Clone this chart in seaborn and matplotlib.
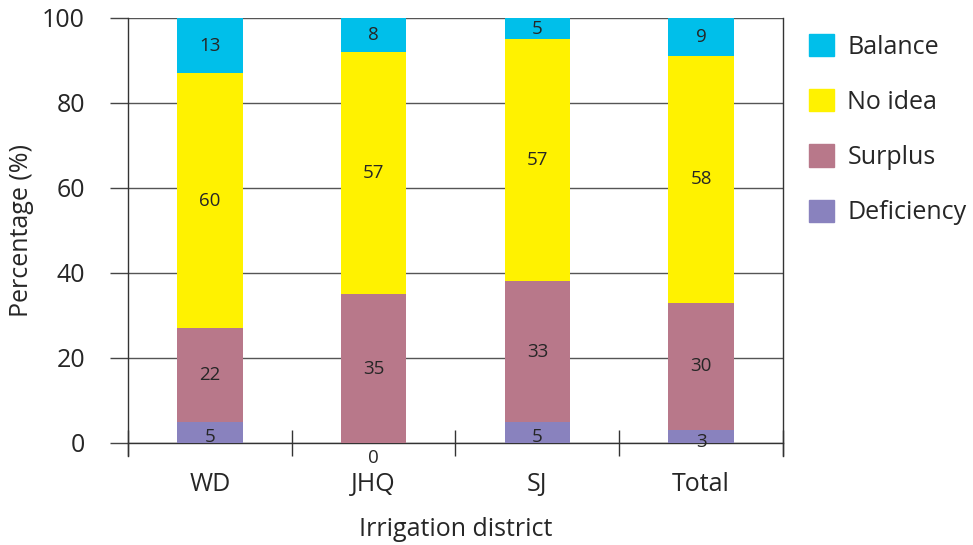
import numpy as np
import pandas as pd
import matplotlib
matplotlib.use('Agg')
import matplotlib.pyplot as plt
import matplotlib.patches as mpatches
import seaborn as sns

sns.set_style('white')
plt.rcParams['font.family'] = ['Open Sans', 'DejaVu Sans']

# data
districts = ['WD', 'JHQ', 'SJ', 'Total']
deficiency = [5, 0, 5, 3]
surplus = [22, 35, 33, 30]
no_idea = [60, 57, 57, 58]
balance = [13, 8, 5, 9]

series = ['Deficiency', 'Surplus', 'No idea', 'Balance']
colors = {'Deficiency': '#8982be', 'Surplus': '#b8788a',
          'No idea': '#fff200', 'Balance': '#00bfea'}

df = pd.DataFrame({'district': districts, 'Deficiency': deficiency,
                   'Surplus': surplus, 'No idea': no_idea, 'Balance': balance})

fig = plt.figure(figsize=(9.73, 5.45), dpi=100)
ax = fig.add_axes([0.1316, 0.1872, 0.673, 0.78])

# stacked bars: draw cumulative totals, tallest first
cum = df[series].cumsum(axis=1)
for s in reversed(series):
    sns.barplot(x=df['district'], y=cum[s], color=colors[s], width=0.4,
                saturation=1, ax=ax, zorder=3, edgecolor='none', linewidth=0)

# value labels in the middle of each segment
for i, d in enumerate(districts):
    base = 0
    for s in series:
        v = df.loc[i, s]
        if v == 0:
            ax.text(i, -1.5, str(v), ha='center', va='top', fontsize=13.5)
        else:
            y = base + v / 2
            if s == 'Deficiency':
                y = base + v / 2 - 1.2
            ax.text(i, y, str(v), ha='center', va='center', fontsize=13.5)
        base += v

ax.set_ylim(0, 100)
ax.set_xlim(-0.5, 3.5)
ax.set_yticks([0, 20, 40, 60, 80, 100])
ax.yaxis.grid(True, color='#555555', linewidth=1)
ax.set_axisbelow(True)
ax.tick_params(axis='y', left=True, labelsize=18, length=13, width=1, color='#444444', pad=18)
ax.tick_params(axis='x', which='major', bottom=True, labelsize=18, length=0, pad=21)
ax.set_xticks(np.arange(-0.5, 4, 1), minor=True)
ax.tick_params(axis='x', which='minor', bottom=True, direction='inout', length=19,
               width=1, color='#333333')

for side in ['left', 'right', 'bottom']:
    ax.spines[side].set_color('#333333')
    ax.spines[side].set_linewidth(1)
ax.spines['top'].set_visible(False)
ax.spines['left'].set_bounds(-3, 100)
ax.spines['right'].set_bounds(-3, 100)

ax.set_xlabel('Irrigation district', fontsize=18, labelpad=14)
ax.set_ylabel('Percentage (%)', fontsize=18, labelpad=6)

handles = [mpatches.Patch(color=colors[s], label=s) for s in reversed(series)]
ax.legend(handles=handles, loc='upper left', bbox_to_anchor=(1.024, 0.986),
          frameon=False, fontsize=18, handlelength=1.0, handleheight=1.0,
          handletextpad=0.55, labelspacing=1.18, borderaxespad=0)

plt.savefig('out.png', dpi=100)
